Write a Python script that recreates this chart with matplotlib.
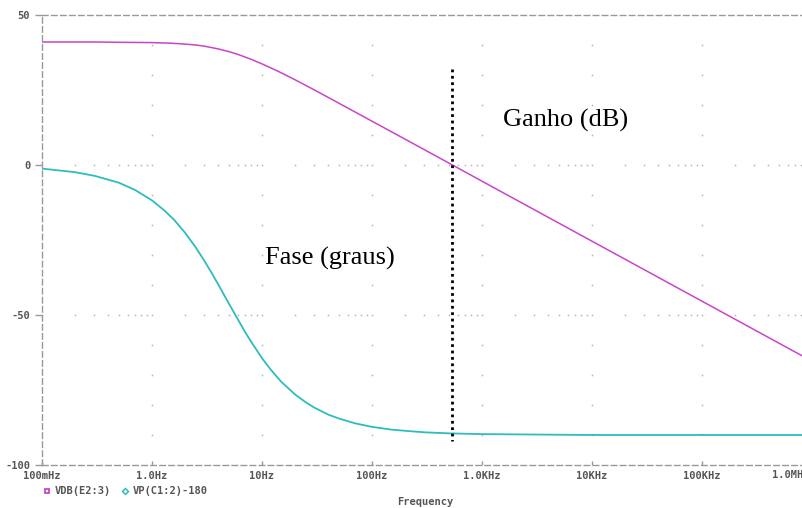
import matplotlib
matplotlib.use("Agg")
import matplotlib.pyplot as plt
import matplotlib.ticker as ticker

# frequency response (Hz, dB, degrees)
freq = [0.1, 0.3, 0.5, 1, 1.5, 2, 2.5, 3, 4, 5, 6, 7, 8, 10, 13, 16, 20, 30,
        50, 100, 200, 500, 1e3, 1e4, 1e5, 1e6]
gain_db = [41.0, 41.0, 40.9, 40.8, 40.6, 40.3, 40.0, 39.6, 38.7, 37.8, 36.9,
           36.0, 35.2, 33.7, 31.8, 30.2, 28.4, 25.0, 20.6, 14.6, 8.6, 0.65,
           -5.4, -25.4, -45.4, -65.4]
phase_freq = [0.1, 0.2, 0.3, 0.5, 0.7, 1, 1.3, 1.6, 2, 2.5, 3, 3.5, 4, 4.5, 5,
              6, 7, 8, 10, 12, 15, 20, 25, 30, 40, 50, 70, 100, 150, 200, 300,
              500, 1e3, 1e4, 1e6]
phase_deg = [-1.2, -2.4, -3.6, -5.9, -8.3, -11.8, -15.2, -18.4, -22.6, -27.5,
             -32.0, -36.1, -39.8, -43.2, -46.2, -51.3, -55.6, -59.0, -64.4,
             -68.2, -72.3, -76.5, -79.1, -80.9, -83.2, -84.5, -86.1, -87.3,
             -88.2, -88.6, -89.1, -89.45, -89.7, -90.0, -90.0]

crossover = 534
x_ticks = [0.1, 1, 10, 100, 1e3, 1e4, 1e5, 1e6]
x_labels = ["100mHz", "1.0Hz", "10Hz", "100Hz", "1.0KHz", "10KHz", "100KHz", ""]
last_label = "1.0MHz"
y_ticks = [50, 0, -50, -100]

gain_color = "#c845c8"
phase_color = "#2ebcbc"
axis_color = "#999999"
label_color = "#555555"
mono = "DejaVu Sans Mono"

fig = plt.figure(figsize=(8.03, 5.08), dpi=100)
ax = fig.add_axes([42 / 803, 43 / 508, 770 / 803, 450 / 508])
ax.set_xscale("log")
ax.set_xlim(0.1, 1e6)
ax.set_ylim(-100, 50)

# grid dots: minor decades along 0 and -50, every 10 units on the decade lines
minor = [m * 10.0 ** e for e in range(-1, 6) for m in range(2, 10)]
for yy in [0, -50]:
    ax.plot(minor + x_ticks[1:-1], [yy] * (len(minor) + 6), ls="none",
            marker="s", ms=1.1, mec="none", mfc="#b5b5b5")
for xx in x_ticks[1:-1]:
    ys = [v for v in range(-90, 50, 10) if v not in (0, -50)]
    ax.plot([xx] * len(ys), ys, ls="none", marker="s", ms=1.1, mec="none",
            mfc="#b5b5b5")

ax.plot(freq, gain_db, color=gain_color, lw=1.1)
ax.plot(phase_freq, phase_deg, color=phase_color, lw=1.3)
ax.plot([crossover, crossover], [32, -92], color="black", lw=2,
        ls=(0, (1, 1.3)))

ax.text(5700, 15, "Ganho (dB)", family="Liberation Serif", fontsize=19,
        ha="center", va="center")
ax.text(41.5, -31, "Fase (graus)", family="Liberation Serif", fontsize=19,
        ha="center", va="center")

for side in ["left", "top", "bottom"]:
    ax.spines[side].set_linestyle((0, (4, 2.5)))
    ax.spines[side].set_color(axis_color)
    ax.spines[side].set_linewidth(1)
ax.spines["right"].set_visible(False)

ax.set_xticks(x_ticks)
ax.set_xticklabels(x_labels)
ax.xaxis.set_minor_locator(ticker.NullLocator())
ax.set_yticks(y_ticks)
ax.set_yticklabels([str(v) for v in y_ticks])
ax.tick_params(axis="both", colors=axis_color, labelcolor=label_color,
               labelsize=7.5, length=5, width=1)
ax.tick_params(axis="x", direction="in", length=3, pad=4)
for lab in ax.get_xticklabels() + ax.get_yticklabels():
    lab.set_family(mono)
    lab.set_fontweight("bold")

# the last decade label is pushed left so it starts before the figure edge
fig.text(772 / 803, 1 - 475 / 508, last_label, family=mono, fontsize=7.5,
         fontweight="bold", color=label_color, ha="left", va="center")

# legend row and axis title under the plot
fig.text(425 / 803, 1 - 502 / 508, "Frequency", family=mono, fontsize=7.5,
         fontweight="bold", color=label_color, ha="center", va="center")
fig.lines.append(plt.Line2D([47 / 803], [1 - 491 / 508], marker="s", ms=3.5,
                            mfc="none", mec=gain_color, mew=1.3,
                            transform=fig.transFigure, figure=fig))
fig.text(55 / 803, 1 - 491 / 508, "VDB(E2:3)", family=mono, fontsize=7.5,
         fontweight="bold", color=label_color, va="center")
fig.lines.append(plt.Line2D([125 / 803], [1 - 491 / 508], marker="D", ms=3,
                            mfc="none", mec=phase_color, mew=1.1,
                            transform=fig.transFigure, figure=fig))
fig.text(133 / 803, 1 - 491 / 508, "VP(C1:2)-180", family=mono, fontsize=7.5,
         fontweight="bold", color=label_color, va="center")

fig.savefig("out.png", dpi=100)
